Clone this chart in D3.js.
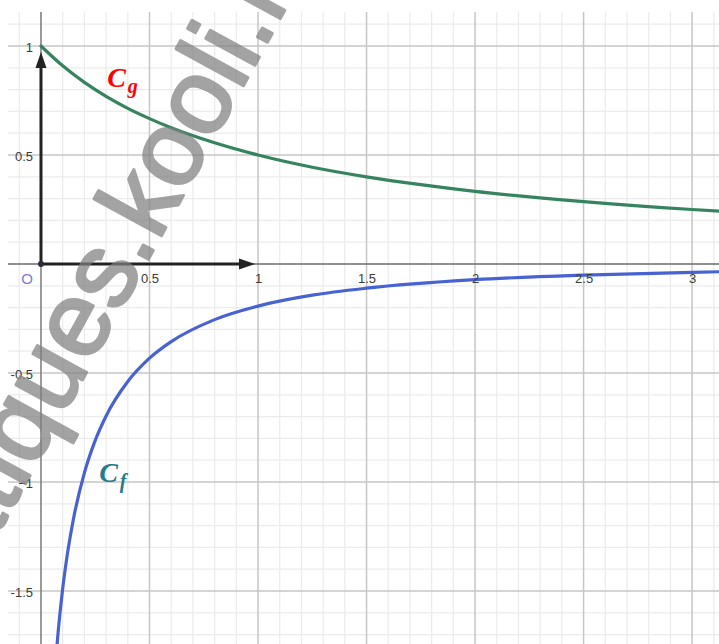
<!DOCTYPE html>
<html>
<head>
<meta charset="utf-8">
<script src="https://cdn.jsdelivr.net/npm/d3@7"></script>
<style>
body { margin: 0; background: #fff; }
svg { display: block; }
</style>
</head>
<body>
<script>
// tick labels on both axes
const xTicks = [0.5, 1, 1.5, 2, 2.5, 3]
const yTicks = [-1.5, -1, -0.5, 0.5, 1]

// C_g
const gX = [0, 0.1, 0.2, 0.3, 0.4, 0.5, 0.6, 0.8, 1, 1.25, 1.5, 1.75, 2, 2.5, 3, 3.2]
const gY = [1, 0.909, 0.833, 0.769, 0.714, 0.667, 0.625, 0.556, 0.5, 0.444, 0.4, 0.364, 0.333, 0.286, 0.25, 0.238]

// C_f
const fX = [0.06, 0.07, 0.08, 0.1, 0.12, 0.15, 0.2, 0.25, 0.3, 0.4, 0.5, 0.6, 0.8, 1, 1.25, 1.5, 2, 2.5, 3, 3.2]
const fY = [-1.929, -1.792, -1.677, -1.489, -1.341, -1.167, -0.958, -0.809, -0.697, -0.539, -0.432, -0.356, -0.255, -0.193, -0.143, -0.111, -0.072, -0.051, -0.038, -0.034]

// curve names and where they sit (graph units)
const curveNames = ["g", "f"]
const curveColors = ["#ff0000", "#27798b"]
const nameX = [0.305, 0.268]
const nameY = [0.81, -1.0]

const watermark = ["mathematiques.", "kooli.me"]

const W = 719, H = 644
const plot = {left: 8, top: 12, right: W, bottom: H}

const x = d3.scaleLinear().domain([-0.152, 3.124]).range([plot.left, plot.right])
const y = d3.scaleLinear().domain([-1.743, 1.156]).range([plot.bottom, plot.top])

const svg = d3.select("body").append("svg")
    .attr("width", W)
    .attr("height", H)

svg.append("clipPath").attr("id", "clip")
    .append("rect")
    .attr("x", plot.left).attr("y", plot.top)
    .attr("width", plot.right - plot.left).attr("height", plot.bottom - plot.top)

const area = svg.append("g").attr("clip-path", "url(#clip)")

//Grid: a thin line every 0.1, a stronger one every 0.5
const gridX = d3.range(-1, 32)
const gridY = d3.range(-17, 12)

area.append("g").selectAll("line")
    .data(gridX.filter(i => i % 5 !== 0))
    .join("line")
    .attr("x1", i => x(i / 10)).attr("x2", i => x(i / 10))
    .attr("y1", plot.top).attr("y2", plot.bottom)
    .attr("stroke", "#ebebeb").attr("stroke-width", 1.2)

area.append("g").selectAll("line")
    .data(gridY.filter(i => i % 5 !== 0))
    .join("line")
    .attr("y1", i => y(i / 10)).attr("y2", i => y(i / 10))
    .attr("x1", plot.left).attr("x2", plot.right)
    .attr("stroke", "#ebebeb").attr("stroke-width", 1.2)

area.append("g").selectAll("line")
    .data(gridX.filter(i => i % 5 === 0 && i !== 0))
    .join("line")
    .attr("x1", i => x(i / 10)).attr("x2", i => x(i / 10))
    .attr("y1", plot.top).attr("y2", plot.bottom)
    .attr("stroke", "#c6c6c6").attr("stroke-width", 1.5)

area.append("g").selectAll("line")
    .data(gridY.filter(i => i % 5 === 0 && i !== 0))
    .join("line")
    .attr("y1", i => y(i / 10)).attr("y2", i => y(i / 10))
    .attr("x1", plot.left).attr("x2", plot.right)
    .attr("stroke", "#c6c6c6").attr("stroke-width", 1.5)

//Axes lines across the whole view
area.append("line")
    .attr("x1", plot.left).attr("x2", plot.right)
    .attr("y1", y(0)).attr("y2", y(0))
    .attr("stroke", "#6a6a6a").attr("stroke-width", 1.5)
area.append("line")
    .attr("x1", x(0)).attr("x2", x(0))
    .attr("y1", plot.top).attr("y2", plot.bottom)
    .attr("stroke", "#7a7a7a").attr("stroke-width", 1.5)

//Tick labels
const font = "'Liberation Sans', Arial, sans-serif"
const fmt = d => d === -1 ? "\u22121" : String(d)

const xAxis = svg.append("g")
    .attr("transform", `translate(0,${y(0)})`)
    .call(d3.axisBottom(x).tickValues(xTicks).tickSize(0).tickPadding(10).tickFormat(fmt))
    .call(g => g.select(".domain").remove())
xAxis.attr("font-size", 13).attr("font-family", font)
xAxis.selectAll("text").attr("fill", "#3a3a3a")

const yAxis = svg.append("g")
    .attr("transform", `translate(${x(0)},0)`)
    .call(d3.axisLeft(y).tickValues(yTicks).tickSize(0).tickPadding(8).tickFormat(fmt))
    .call(g => g.select(".domain").remove())
yAxis.attr("font-size", 13).attr("font-family", font)
yAxis.selectAll("text").attr("fill", "#3a3a3a").attr("dy", "0.4em")

svg.append("text")
    .attr("x", x(0) - 14).attr("y", y(0) + 20)
    .attr("text-anchor", "middle")
    .attr("font-family", font).attr("font-size", 15)
    .attr("fill", "#7b7bd6")
    .text("O")

//Unit vectors from the origin
const head = 16, half = 5.5
const ox = x(0), oy = y(0)
const tx = x(1) - 3, ty = y(1) + 6
svg.append("line")
    .attr("x1", ox).attr("y1", oy).attr("x2", tx - head + 2).attr("y2", oy)
    .attr("stroke", "#222").attr("stroke-width", 3)
svg.append("polygon")
    .attr("points", [[tx, oy], [tx - head, oy - half], [tx - head, oy + half]].join(" "))
    .attr("fill", "#222")
svg.append("line")
    .attr("x1", ox).attr("y1", oy).attr("x2", ox).attr("y2", ty + head - 2)
    .attr("stroke", "#222").attr("stroke-width", 3)
svg.append("polygon")
    .attr("points", [[ox, ty], [ox - half, ty + head], [ox + half, ty + head]].join(" "))
    .attr("fill", "#222")
svg.append("circle")
    .attr("cx", ox).attr("cy", oy).attr("r", 3)
    .attr("fill", "#2c2c3a")

//The two curves
const line = d3.line()
    .x(d => x(d[0]))
    .y(d => y(d[1]))
    .curve(d3.curveMonotoneX)

area.append("path")
    .datum(d3.zip(gX, gY))
    .attr("fill", "none")
    .attr("stroke", "#35845f")
    .attr("stroke-width", 3.2)
    .attr("stroke-linecap", "round")
    .attr("d", line)

area.append("path")
    .datum(d3.zip(fX, fY))
    .attr("fill", "none")
    .attr("stroke", "#4862d2")
    .attr("stroke-width", 3.2)
    .attr("stroke-linecap", "round")
    .attr("d", line)

//Curve names C_g and C_f
curveNames.forEach((n, i) => {
    const t = svg.append("text")
        .attr("x", x(nameX[i])).attr("y", y(nameY[i]))
        .attr("font-family", "'Liberation Serif', 'DejaVu Serif', serif")
        .attr("font-weight", "bold")
        .attr("font-style", "italic")
        .attr("fill", curveColors[i])
    t.append("tspan").attr("font-size", 28).text("C")
    t.append("tspan").attr("font-size", 20).attr("dx", 2).attr("dy", 6).text(n)
})

//Site watermark over the picture
const wm = svg.append("g")
    .attr("transform", "translate(158,242) rotate(-61.3)")
    .attr("font-family", font)
    .attr("font-size", 106)
    .attr("fill", "#808080")
    .attr("stroke", "#808080")
    .attr("stroke-width", 3)
    .attr("stroke-linejoin", "round")
    .attr("opacity", 0.72)
wm.append("text").attr("text-anchor", "end").text(watermark[0])
wm.append("text").attr("text-anchor", "start").text(watermark[1])
</script>
</body>
</html>
